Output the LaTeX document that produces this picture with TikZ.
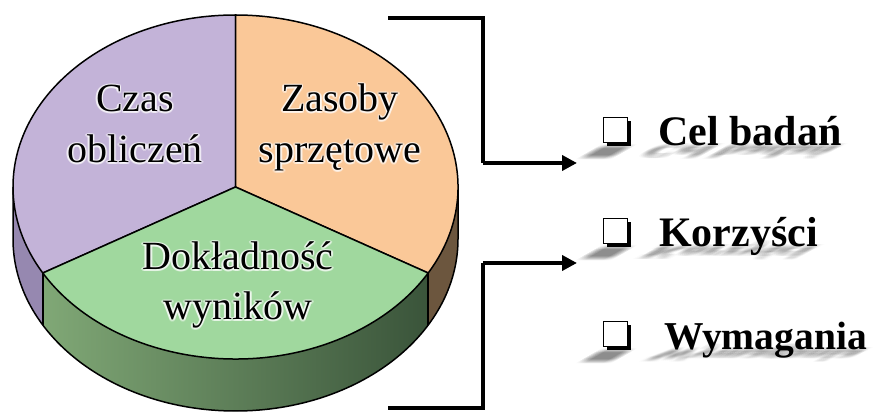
\documentclass[tikz,border=0pt]{standalone}
\usepackage{fontspec}
\setmainfont{Liberation Serif}
\usetikzlibrary{arrows.meta,shadows}

% pie colours
\definecolor{lilacTop}{RGB}{195,179,216}
\definecolor{lilacSide}{RGB}{150,136,176}
\definecolor{peachTop}{RGB}{250,200,152}
\definecolor{peachSide}{RGB}{108,86,62}
\definecolor{mintTop}{RGB}{160,216,158}
\definecolor{mossLight}{RGB}{128,168,118}
\definecolor{mossDark}{RGB}{58,84,58}

% one label line with a soft white glow behind it
\newcommand\glowLabel[3]{%
  \foreach \a in {0,30,...,330}{%
    \node[pielabel,text=white,opacity=0.35] at ([shift={(\a:1.8)}]#2) {#3};}
  \node[pielabel] (#1) at (#2) {#3};}

% blurred perspective shadow lying under a list entry
% #1 baseline, #2 left edge of text, #3 font size, #4 text
\newcommand\floorShadow[4]{%
  \begin{scope}[shift={(#2,#1)}, yscale=-0.4, xslant=-0.7]
    \foreach \dx in {-4,-2,0,2,4}{%
      \foreach \dy in {-5,-2.5,0,2.5,5}{%
        \node[inner sep=0pt, font=\fontsize{#3}{#3}\selectfont\bfseries,
              transform shape, text=black, opacity=0.022,
              anchor=base west] at (\dx,\dy) {#4};
        \fill[black, opacity=0.022] (\dx+603-#2,\dy+1) rectangle (\dx+630-#2,\dy+28);}}
  \end{scope}}

\begin{document}
\begin{tikzpicture}[x=1pt, y=1pt,
  outline/.style={draw=black, line width=1.5pt, line join=round},
  pielabel/.style={anchor=base, inner sep=0pt, font=\fontsize{40}{48}\selectfont},
  itemtext/.style={inner sep=0pt, anchor=base west, font=\fontsize{42}{50}\selectfont\bfseries},
  checkbox/.style={draw=black, fill=white, line width=1pt, minimum width=24pt,
    minimum height=25pt, inner sep=0pt,
    drop shadow={shadow xshift=3.5pt, shadow yshift=-3.5pt, opacity=1, fill=black}},
  bracket/.style={line width=4pt, line join=miter},
  pointer/.style={line width=4pt, -{Triangle[length=15pt,width=15pt]}}]

\useasboundingbox (0,0) rectangle (873,412);

% pie geometry: centre of the top face
\coordinate (c) at (235.5,225);

% ---- side walls ----
\fill[lilacSide] (c) ++(180:222.5pt and 172pt)
  arc[start angle=180, end angle=210, x radius=222.5pt, y radius=172pt]
  -- ++(0,-52)
  arc[start angle=210, end angle=180, x radius=222.5pt, y radius=172pt] -- cycle;
\shade[left color=mossLight, right color=mossDark] (c) ++(210:222.5pt and 172pt)
  arc[start angle=210, end angle=330, x radius=222.5pt, y radius=172pt]
  -- ++(0,-52)
  arc[start angle=330, end angle=210, x radius=222.5pt, y radius=172pt] -- cycle;
\fill[peachSide] (c) ++(330:222.5pt and 172pt)
  arc[start angle=330, end angle=360, x radius=222.5pt, y radius=172pt]
  -- ++(0,-52)
  arc[start angle=360, end angle=330, x radius=222.5pt, y radius=172pt] -- cycle;
\draw[outline] (c) ++(180:222.5pt and 172pt) -- ++(0,-52)
  arc[start angle=180, end angle=360, x radius=222.5pt, y radius=172pt]
  -- ++(0,52);
\draw[outline] (c) ++(210:222.5pt and 172pt) -- ++(0,-52);
\draw[outline] (c) ++(330:222.5pt and 172pt) -- ++(0,-52);

% ---- top face ----
\filldraw[outline, fill=lilacTop] (c) -- +(90:222.5pt and 172pt)
  arc[start angle=90, end angle=210, x radius=222.5pt, y radius=172pt] -- cycle;
\filldraw[outline, fill=peachTop] (c) -- +(-30:222.5pt and 172pt)
  arc[start angle=-30, end angle=90, x radius=222.5pt, y radius=172pt] -- cycle;
\filldraw[outline, fill=mintTop] (c) -- +(210:222.5pt and 172pt)
  arc[start angle=210, end angle=330, x radius=222.5pt, y radius=172pt] -- cycle;

% ---- sector labels ----
\glowLabel{czasA}{135,300}{Czas}
\glowLabel{czasB}{135,249}{obliczeń}
\glowLabel{zasA}{340,300}{Zasoby}
\glowLabel{zasB}{340,249}{sprzętowe}
\glowLabel{dokA}{238,142}{Dokładność}
\glowLabel{dokB}{238,92}{wyników}

% ---- list on the right ----
\floorShadow{266}{658}{42}{Cel badań}
\floorShadow{165}{659}{42}{Korzyści}
\floorShadow{62}{664}{39.5}{Wymagania}

\node[checkbox] (box1) at (615,281.5) {};
\node[checkbox] (box2) at (615,180.5) {};
\node[checkbox] (box3) at (615,77.5) {};

\node[itemtext] (cel) at (658,266) {Cel badań};
\node[itemtext] (korz) at (659,165) {Korzyści};
\node[itemtext, font=\fontsize{39.5}{48}\selectfont\bfseries] (wym) at (664,62) {Wymagania};

% ---- brackets with arrows ----
\coordinate (topEnd) at (388,394);
\coordinate (topBend) at (483,394);
\coordinate (topKnee) at (483,249);
\coordinate (topTip) at (577,249);
\coordinate (botEnd) at (388,4);
\coordinate (botBend) at (483,4);
\coordinate (botKnee) at (483,149);
\coordinate (botTip) at (577,149);

\draw[bracket] (topEnd) -- (topBend) -- (topKnee);
\draw[pointer] (topKnee) -- (topTip);
\draw[bracket] (botEnd) -- (botBend) -- (botKnee);
\draw[pointer] (botKnee) -- (botTip);
\end{tikzpicture}
\end{document}
